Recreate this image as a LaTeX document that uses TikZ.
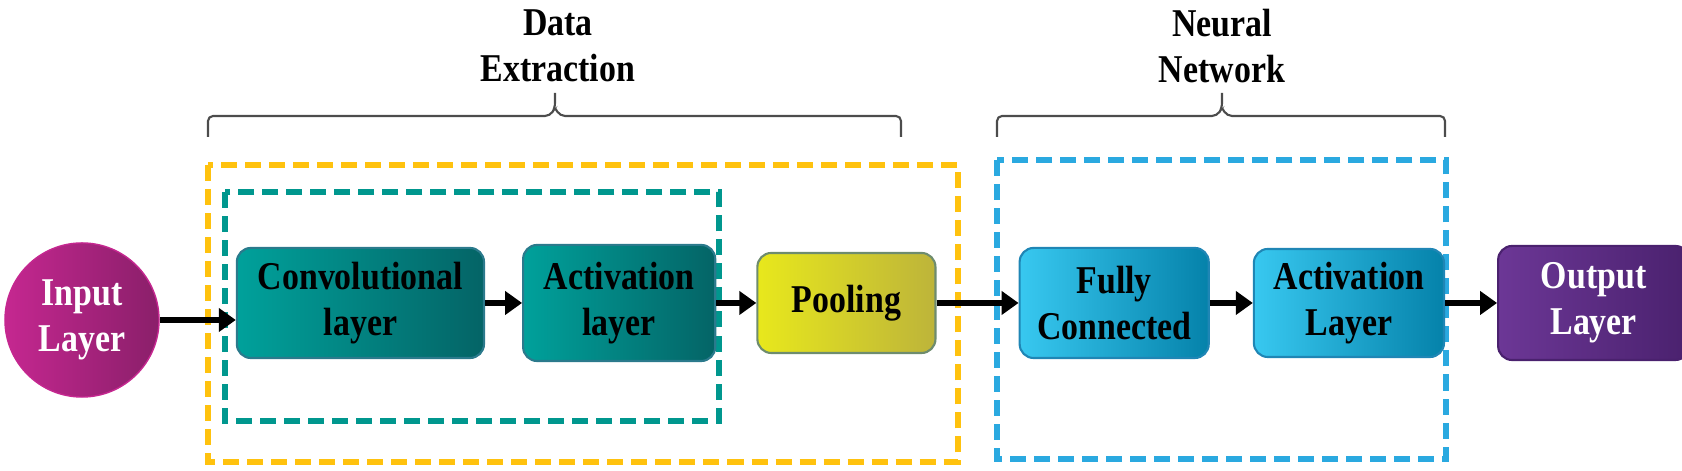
\documentclass[tikz,border=0pt]{standalone}
\usepackage{fontspec}
\setmainfont{Liberation Serif}[FakeStretch=0.86]
\usetikzlibrary{arrows.meta, positioning, calc}

\definecolor{inpL}{HTML}{C52790}
\definecolor{inpR}{HTML}{8A1F6A}
\definecolor{tealL}{HTML}{00A19B}
\definecolor{tealR}{HTML}{046466}
\definecolor{tealE}{HTML}{2B7A8C}
\definecolor{poolL}{HTML}{E8E81C}
\definecolor{poolR}{HTML}{BDB43A}
\definecolor{poolE}{HTML}{6E8C6E}
\definecolor{blueL}{HTML}{38C8F0}
\definecolor{blueR}{HTML}{0582AA}
\definecolor{blueE}{HTML}{1F86B5}
\definecolor{outL}{HTML}{6C3796}
\definecolor{outR}{HTML}{4A216E}
\definecolor{dashY}{HTML}{FFC20E}
\definecolor{dashT}{HTML}{00978E}
\definecolor{dashB}{HTML}{2AA9E0}

\begin{document}
\begin{tikzpicture}[
  x=0.01cm, y=-0.01cm,
  font=\fontsize{11.2pt}{13pt}\selectfont\bfseries,
  box/.style = {draw=#1, line width=0.6pt, rounded corners=0.14cm, align=center, inner sep=0pt},
  tealblock/.style = {box=tealE, left color=tealL, right color=tealR},
  poolblock/.style = {box=poolE, left color=poolL, right color=poolR},
  blueblock/.style = {box=blueE, left color=blueL, right color=blueR},
  outblock/.style = {box=outR, left color=outL, right color=outR, text=white},
  inblock/.style = {circle, draw=inpL, left color=inpL, right color=inpR, text=white,
                    minimum size=1.54cm, inner sep=0pt, align=center},
  head/.style = {align=center, inner sep=0pt},
  frame/.style = {draw=#1, line width=0.055cm, dash pattern=on 0.16cm off 0.08cm},
  bracket/.style = {draw=black!70, line width=0.6pt, rounded corners=0.05cm},
  arrow/.style = {line width=0.06cm, -{Triangle[length=0.17cm, width=0.23cm]}}
]

  % bounding box
  \useasboundingbox (0,0) rectangle (1682,471);

  % ======================================================
  % Dashed group frames
  % ======================================================
  \draw[frame=dashY] (208,165) rectangle (958,462);
  \draw[frame=dashT] (225,192) rectangle (719,421);
  \draw[frame=dashB] (997,160) rectangle (1446,459);

  % Group titles and brackets
  \node[head] (dext) at (558,46) {Data\\Extraction};
  \node[head] (nnet) at (1222,46) {Neural\\Network};

  \draw[bracket] (208,137) -- (208,116) -- (550,116) -- (555,108) -- (555,93)
                 (555,108) -- (560,116) -- (901,116) -- (901,137);
  \draw[bracket] (997,137) -- (997,116) -- (1217,116) -- (1222,108) -- (1222,93)
                 (1222,108) -- (1227,116) -- (1445,116) -- (1445,137);

  % ======================================================
  % Layers
  % ======================================================
  \node[inblock] (inp) at (82,320) {Input\\Layer};

  \node[tealblock, minimum width=2.47cm, minimum height=1.10cm,
        right=0.76cm of inp, yshift=0.17cm] (conv) {Convolutional\\layer};
  \node[tealblock, minimum width=1.92cm, minimum height=1.16cm,
        right=0.37cm of conv] (act) {Activation\\layer};
  \node[poolblock, minimum width=1.78cm, minimum height=1.00cm,
        right=0.40cm of act] (pool) {Pooling};

  \node[blueblock, minimum width=1.89cm, minimum height=1.10cm,
        right=0.82cm of pool] (fc) {Fully\\Connected};
  \node[blueblock, minimum width=1.90cm, minimum height=1.08cm,
        right=0.43cm of fc] (act2) {Activation\\Layer};

  \node[outblock, minimum width=1.91cm, minimum height=1.14cm,
        right=0.52cm of act2] (out) {Output\\Layer};

  % ======================================================
  % Arrows
  % ======================================================
  \draw[arrow] (inp.east) -- (inp.east -| conv.west);
  \draw[arrow] (conv.east) -- (act.west);
  \draw[arrow] (act.east) -- (pool.west);
  \draw[arrow] (pool.east) -- (fc.west);
  \draw[arrow] (fc.east) -- (act2.west);
  \draw[arrow] (act2.east) -- (out.west);

\end{tikzpicture}
\end{document}
